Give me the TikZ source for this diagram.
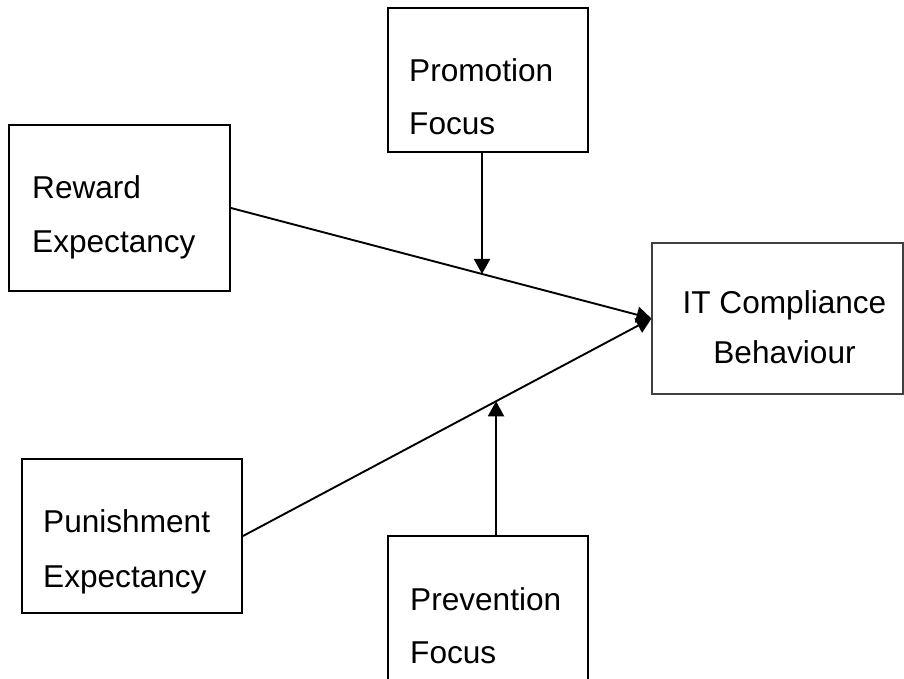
\documentclass[tikz,border=0pt]{standalone}
\usepackage{fontspec}
\setmainfont{Liberation Sans}
\usetikzlibrary{arrows.meta,calc}
\tikzset{
  box/.style={draw=black, line width=2pt, rectangle, inner sep=0pt},
  thinbox/.style={draw=black!75, line width=1.1pt, rectangle, inner sep=0pt},
  lbl/.style={anchor=base west, inner sep=0pt, font=\fontsize{31.6}{37}\selectfont},
  clbl/.style={anchor=base, inner sep=0pt, font=\fontsize{31.6}{37}\selectfont},
  conn/.style={line width=1.9pt, -{Triangle[length=15pt,width=16pt]}},
}
\begin{document}
\begin{tikzpicture}[x=1pt,y=-1pt]
\clip (0,0) rectangle (904,679);
\fill[white] (0,0) rectangle (904,679);
% boxes
\node[box, minimum width=200pt, minimum height=144pt] (prom) at (488,80) {};
\node[box, minimum width=221pt, minimum height=166pt] (rew) at (119.5,208) {};
\node[thinbox, minimum width=251pt, minimum height=151pt] (it) at (777.5,318.5) {};
\node[box, minimum width=220pt, minimum height=154pt] (pun) at (132,536) {};
\node[box, minimum width=200pt, minimum height=160pt] (prev) at (488,616) {};
% labels
\node[lbl] (t1) at (409,82) {Promotion};
\node[lbl] (t2) at (409,135) {Focus};
\node[lbl] (t3) at (32,198) {Reward};
\node[lbl] (t4) at (32,252) {Expectancy};
\node[lbl] (t5) at (43,532) {Punishment};
\node[lbl] (t6) at (43,587) {Expectancy};
\node[lbl] (t7) at (410,610) {Prevention};
\node[lbl] (t8) at (410,663) {Focus};
\node[clbl] (t9) at (784.5,313) {IT Compliance};
\node[clbl] (t10) at (784.5,363) {Behaviour};
% connectors
\draw[conn] (rew.east) -- (it.west);
\draw[conn] (pun.east) -- (it.west);
\coordinate (m1) at ($(rew.east)!0.597!(it.west)$);
\coordinate (m2) at ($(pun.east)!0.6195!(it.west)$);
\draw[conn] (prom.south -| m1) -- (m1);
\draw[conn] (prev.north -| m2) -- (m2);
\end{tikzpicture}
\end{document}
